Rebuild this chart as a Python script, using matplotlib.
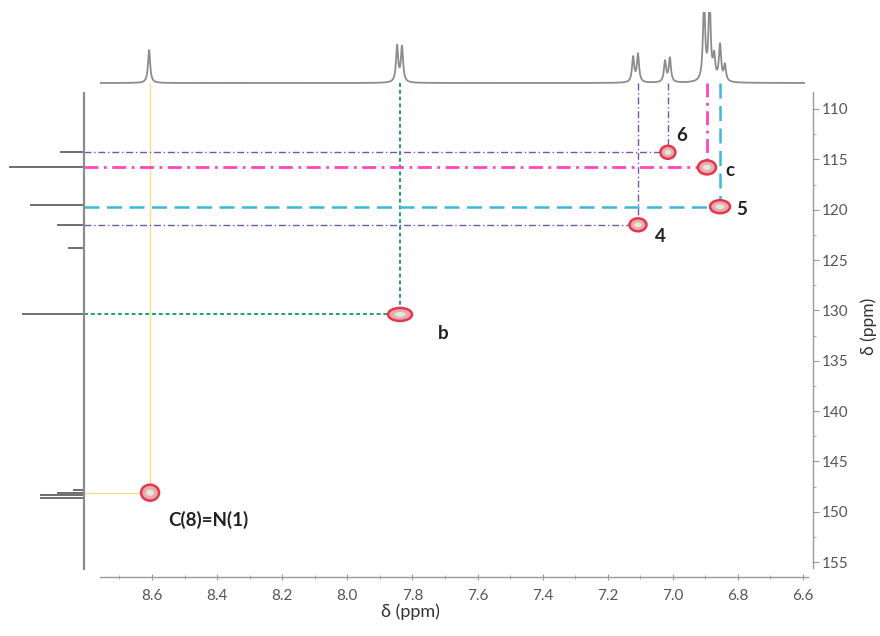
import numpy as np
import matplotlib
matplotlib.use("Agg")
import matplotlib.pyplot as plt
from matplotlib.patches import Ellipse

plt.rcParams['font.family'] = ['Lato', 'DejaVu Sans']

# 1H projection (top): peak shifts (ppm) and heights
h_shift = [8.609, 7.847, 7.832, 7.122, 7.107, 7.024, 7.009,
           6.904, 6.887, 6.873, 6.855, 6.840]
h_height = [33, 36, 35, 25, 28, 21, 24, 80, 80, 23, 36, 16]

# 13C projection (left): stick shifts (ppm) and heights
c_shift = [114.3, 115.8, 119.5, 121.5, 123.8, 130.4, 147.8, 148.1, 148.3, 148.6]
c_height = [24, 75, 54, 27, 16, 62, 11, 27, 44, 44]

# HSQC cross peaks
labels = ['C(8)=N(1)', 'b', '4', '6', 'c', '5']
peak_h = [8.606, 7.838, 7.107, 7.015, 6.895, 6.855]
peak_c = [148.1, 130.4, 121.5, 114.3, 115.8, 119.7]

# styles for the guide lines, one per cross peak
line_col = ['#f4e08a', '#1e9e78', '#7656a8', '#7656a8', '#ff45c0', '#3cb8d8']
line_sty = ['-', (0, (2, 1.5)), (0, (5, 2, 1, 2)), (0, (5, 2, 1, 2)),
            (0, (5, 2, 1, 2)), (0, (6, 3))]
line_w = [1.0, 1.4, 1.0, 1.0, 2.0, 1.8]
# ellipse size in pixels and label offsets in pixels
ell_px = [(18, 16), (24, 13), (17, 13), (15, 13), (18, 14), (20, 13)]
lab_off = [(18, -27), (43, -19), (22, -12), (14, 17), (23, -3), (22, -3)]
lab_ha = ['left', 'center', 'center', 'center', 'center', 'center']

W, H = 880, 636
fig = plt.figure(figsize=(W / 100, H / 100), dpi=100)


def box(x0, y0, x1, y1):
    return [x0 / W, 1 - y1 / H, (x1 - x0) / W, (y1 - y0) / H]


# pixel -> ppm scales
px_h = 325.5   # px per ppm (1H)
px_c = 10.07   # px per ppm (13C)
x_left = 8.6 + (152 - 84) / px_h
x_right = 8.6 - (808 - 152) / px_h
y_top = 110 - (109 - 83) / px_c
y_bot = 110 + (570 - 109) / px_c

ax = fig.add_axes(box(84, 83, 808, 570))
ax.set_xlim(x_left, x_right)
ax.set_ylim(y_bot, y_top)
ax.patch.set_alpha(0)
for s in ['top', 'left']:
    ax.spines[s].set_visible(False)
ax.spines['bottom'].set_position(('outward', 5))
ax.spines['right'].set_position(('outward', 3.6))
ax.spines['bottom'].set_bounds(8.6 + 52 / px_h, x_right)
ax.spines['right'].set_bounds(110 - 17 / px_c, 110 + 459 / px_c)
for s in ['bottom', 'right']:
    ax.spines[s].set_color('#9a9a9a')
    ax.spines[s].set_linewidth(1.0)
ax.yaxis.tick_right()
ax.yaxis.set_label_position('right')
ax.set_xticks(np.arange(6.6, 8.61, 0.2))
ax.set_xticklabels([f'{v:.1f}' for v in np.arange(6.6, 8.61, 0.2)])
ax.set_xticks(np.arange(6.7, 8.71, 0.2), minor=True)
ax.set_yticks(np.arange(110, 156, 5))
ax.set_yticks(np.arange(112.5, 156, 5), minor=True)
ax.tick_params(which='both', colors='#9a9a9a', labelcolor='#555555', labelsize=11)
ax.tick_params(axis='x', which='major', direction='inout', length=5, pad=6)
ax.tick_params(axis='x', which='minor', direction='inout', length=3)
ax.tick_params(axis='y', which='major', length=4, pad=2)
ax.tick_params(axis='y', which='minor', length=2)
ax.set_ylabel('δ (ppm)', fontsize=12.5, color='#333333', labelpad=9)
fig.text(410 / W, 1 - 612 / H, 'δ (ppm)', ha='center', va='center',
         fontsize=13, color='#333333')

# guide lines and cross peaks
for i in range(len(labels)):
    ax.plot([x_left, peak_h[i]], [peak_c[i], peak_c[i]], color=line_col[i],
            ls=line_sty[i], lw=line_w[i], zorder=2)
    ax.plot([peak_h[i], peak_h[i]], [y_top, peak_c[i]], color=line_col[i],
            ls=line_sty[i], lw=line_w[i], zorder=2)
    ew, eh = ell_px[i]
    ax.add_patch(Ellipse((peak_h[i], peak_c[i]), ew / px_h, eh / px_c,
                         facecolor='#f2a6ae', edgecolor='#e0384c', lw=1.8, zorder=3))
    ax.add_patch(Ellipse((peak_h[i], peak_c[i]), ew * 0.5 / px_h, eh * 0.45 / px_c,
                         facecolor='#e9e4dc', edgecolor='#c8b8b0', lw=0.6, zorder=4))
    ax.annotate(labels[i], (peak_h[i], peak_c[i]), xytext=lab_off[i],
                textcoords='offset pixels', ha=lab_ha[i], va='center',
                fontsize=13.5, fontweight='bold', color='#222222', zorder=5)

# top 1H projection
axt = fig.add_axes(box(100, 12, 805, 88))
xs = np.linspace(8.6 + 52 / px_h, 8.6 - 653 / px_h, 6000)
spec = np.zeros_like(xs)
w = 0.004
for s, h in zip(h_shift, h_height):
    spec += h * w ** 2 / ((xs - s) ** 2 + w ** 2)
axt.plot(xs, spec, color='#8c8c8c', lw=1.3)
axt.set_xlim(xs[0], xs[-1])
axt.set_ylim(-5, 71)
axt.axis('off')

# left 13C projection
axl = fig.add_axes(box(0, 92, 87, 570))
axl.hlines(c_shift, 0, c_height, color='#6e6e6e', lw=1.4)
axl.axvline(0, color='#8c8c8c', lw=1.6)
axl.set_xlim(84, -3)
axl.set_ylim(y_bot, 110 - 17 / px_c)
axl.axis('off')

fig.savefig('out.png', dpi=100)
